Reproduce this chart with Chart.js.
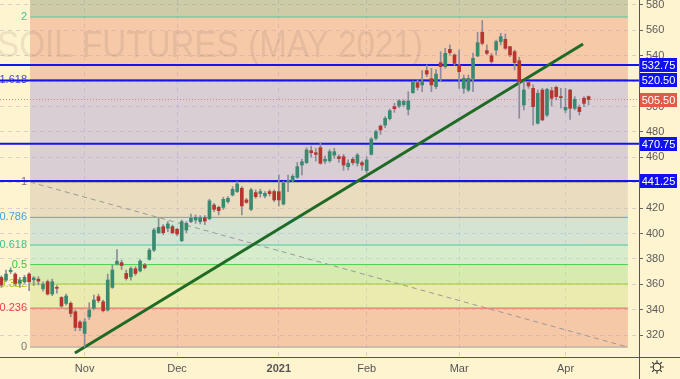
<!DOCTYPE html>
<html lang="en">
<head>
<meta charset="UTF-8">
<title>SOIL FUTURES (MAY 2021)</title>
<script src="https://cdn.jsdelivr.net/npm/chart.js@4.4.1/dist/chart.umd.min.js"></script>
<style>
  html, body { margin: 0; padding: 0; background: #fff4d0; }
  canvas { display: block; }
</style>
</head>
<body>
<canvas id="chart" width="680" height="379"></canvas>
<script>
// daily candles, Oct 7 2020 .. Apr 9 2021 (index = trading day)
var opens = [365.4,363.3,370.0,368.0,360.7,362.0,368.0,363.5,364.0,356.4,362.0,352.3,357.5,349.6,344.9,345.0,338.3,330.2,
  321.3,334.4,341.1,350.2,346.2,339.7,357.5,376.0,377.0,368.5,365.9,372.2,370.5,375.1,379.6,386.9,400.5,405.4,404.1,405.4,
  403.3,394.3,402.7,409.3,410.6,409.3,412.4,411.6,422.4,420.6,420.6,425.1,430.3,433.0,435.6,426.4,419.0,432.2,431.4,429.5,433.0,433.0,
  432.9,423.2,440.5,441.5,444.2,453.9,455.8,465.2,463.6,467.6,457.0,457.3,461.8,460.5,460.5,452.6,458.4,455.3,455.8,
  449.5,462.3,475.0,484.6,485.4,490.4,499.9,500.4,501.5,497.8,510.9,518.8,517.0,528.3,522.0,515.7,534.6,531.4,545.0,540.6,
  532.7,514.3,513.0,522.2,539.8,558.5,544.0,540.0,544.5,551.1,552.9,547.2,543.2,536.1,501.2,518.8,514.3,486.8,513.0,493.3,512.5,515.1,507.8,
  497.3,513.0,498.6,499.4,506.5,507.8];
var highs = [366.7,371.2,373.0,369.0,365.4,367.0,369.0,366.0,366.0,362.0,363.3,364.0,359.0,350.2,352.2,346.2,339.6,331.3,
  333.0,345.5,351.5,352.2,347.5,368.0,375.0,387.4,379.0,371.2,373.8,373.8,379.5,376.4,388.2,404.0,411.9,407.0,409.3,406.7,
  404.0,410.6,409.3,415.3,414.5,414.0,414.0,427.0,423.8,421.6,428.5,429.0,436.9,440.9,436.9,427.7,435.6,434.3,435.0,433.0,434.5,434.3,
  446.1,441.1,446.0,446.5,456.0,458.6,467.5,468.8,467.0,471.6,461.0,466.0,467.0,462.0,462.3,458.0,460.0,463.0,457.1,
  460.5,475.5,481.5,485.5,492.0,498.0,502.5,505.2,505.2,511.7,520.1,520.9,528.3,532.7,530.0,529.0,543.2,545.9,548.5,541.5,
  544.5,524.8,524.8,542.0,558.5,567.7,548.5,541.9,552.4,557.7,557.2,547.2,544.5,538.8,519.6,519.6,517.0,513.0,514.3,514.3,515.1,516.2,514.3,
  514.3,513.5,507.8,501.2,507.8,508.3];
var lows = [357.5,362.0,368.5,358.6,357.5,360.7,355.0,359.0,359.5,354.6,351.5,351.0,353.0,341.7,343.6,334.4,323.4,323.4,
  310.5,332.3,339.7,345.5,338.3,338.9,356.8,375.1,371.7,363.3,363.3,367.0,369.7,372.0,379.0,385.6,400.0,399.0,401.4,399.6,
  398.0,393.5,400.6,408.5,408.0,407.5,407.0,410.8,417.2,414.6,419.0,423.8,429.5,432.2,414.6,423.8,418.0,427.7,428.5,428.0,429.5,425.1,
  421.6,422.4,433.0,440.5,443.4,446.1,455.0,460.0,457.0,454.5,455.0,456.0,459.2,456.0,449.8,450.0,454.0,453.0,449.8,
  447.4,461.8,473.6,478.0,483.3,489.4,495.4,499.1,500.0,493.3,510.4,513.0,511.7,523.5,511.7,514.0,519.6,530.1,540.6,532.5,
  514.3,510.4,511.7,511.7,539.3,548.5,540.6,534.0,540.6,548.5,545.0,539.3,528.8,490.7,497.3,514.3,485.4,486.2,488.9,492.0,500.4,505.2,498.6,
  495.2,489.9,497.3,493.3,499.9,501.2];
var closes = [359.4,368.0,371.0,360.7,363.3,365.4,362.0,365.0,362.5,360.0,352.3,362.0,356.8,342.8,350.7,337.0,326.0,325.7,
  330.4,339.7,347.6,347.1,339.2,363.3,371.2,378.2,374.8,364.6,372.4,368.5,378.2,373.0,386.9,402.7,404.8,400.6,407.5,400.6,
  399.6,409.3,408.0,412.0,412.7,412.4,409.8,425.7,419.0,418.0,426.9,427.7,434.8,439.0,421.7,424.5,434.3,429.0,433.0,431.6,431.4,426.4,
  426.4,439.8,441.5,445.0,452.6,456.5,465.8,463.6,462.3,455.3,458.5,464.4,464.4,459.0,453.9,455.3,455.8,461.8,453.9,
  457.9,474.4,480.2,481.5,490.7,496.7,498.3,504.4,504.1,504.4,519.6,515.1,519.6,525.6,517.0,525.6,531.4,541.9,542.4,534.0,
  527.5,522.2,522.2,538.0,550.3,549.8,541.9,535.4,551.1,555.0,545.9,540.6,534.6,519.6,513.0,516.2,499.9,510.4,489.4,513.5,506.5,507.8,507.0,
  499.4,498.6,505.7,496.0,502.5,505.5];

var monthTickIdx = [18, 38, 60, 79, 99, 122];
var monthLabels = ['Nov', 'Dec', '2021', 'Feb', 'Mar', 'Apr'];
var yTicks = [320, 340, 360, 380, 400, 420, 440, 460, 480, 500, 520, 540, 560, 580];

var fibRatios = ['0', '0.236', '0.382', '0.5', '0.618', '0.786', '1', '1.618', '2'];
var fibPrices = [310.5, 341.2, 360.2, 375.5, 390.9, 412.7, 440.5, 520.8, 570.5];
var fibFrom = 6.2, fibTo = 135.5;

var levelPrices = [532.75, 520.50, 470.75, 441.25];
var lastPrice = 505.50;

var trendX = [15.9, 125.8], trendY = [305.8, 549.3];
var diagX = [6.2, 135.5], diagY = [440.5, 310.5];

var X_MIN = -0.3, X_MAX = 137.9, Y_MIN = 302.7, Y_MAX = 583.9;

var fibLineColors = ['#a0a0a0', '#e2675a', '#9bcc2c', '#4ccf4c', '#4fc7a0', '#5aa7d6', '#9a9a9a', '#4747d6', '#59c69a'];
var fibTextColors = ['#787878', '#e04848', '#a8c81c', '#3fc23f', '#3fbf8f', '#4a9fd4', '#777777', '#4848c8', '#3cc890'];
var bandColors = ['rgba(0,0,0,0)', 'rgba(235,156,128,0.5)', 'rgba(215,226,144,0.5)', 'rgba(175,224,144,0.5)',
  'rgba(173,228,196,0.5)', 'rgba(171,210,214,0.5)', 'rgba(213,196,174,0.5)', 'rgba(179,168,216,0.5)',
  'rgba(237,158,130,0.5)'];
var UP = '#3a8a70', DOWN = '#b8342e', WICK = '#8c8c9c';

var bodies = [], wicks = [], bodyColors = [];
for (var i = 0; i < opens.length; i++) {
  bodies.push({ x: i, y: [opens[i], closes[i]] });
  wicks.push({ x: i, y: [lows[i], highs[i]] });
  bodyColors.push(closes[i] >= opens[i] ? UP : DOWN);
}

function hline(y, color, width, dash) {
  return { type: 'line', data: [{ x: X_MIN, y: y }, { x: X_MAX, y: y }], borderColor: color,
    borderWidth: width, borderDash: dash || [], pointRadius: 0, fill: false };
}

var datasets = [
  { type: 'bar', data: bodies, backgroundColor: bodyColors, barThickness: 3, minBarLength: 1, grouped: false, borderWidth: 0 },
  { type: 'bar', data: wicks, backgroundColor: WICK, barThickness: 1, grouped: false, borderWidth: 0 },
  { type: 'line', data: [{ x: trendX[0], y: trendY[0] }, { x: trendX[1], y: trendY[1] }], borderColor: '#1f6b26',
    borderWidth: 3, pointRadius: 0, fill: false },
  { type: 'line', data: [{ x: diagX[0], y: diagY[0] }, { x: diagX[1], y: diagY[1] }], borderColor: '#9a9a9a',
    borderWidth: 1, borderDash: [5, 4], pointRadius: 0, fill: false }
];
levelPrices.forEach(function (p) { datasets.push(hline(p, '#1414ee', 2)); });
datasets.push(hline(lastPrice, '#e08080', 1, [1, 2]));

var FIB_FIRST = datasets.length;
fibPrices.forEach(function (p, k) {
  datasets.push({ type: 'line', data: [{ x: fibFrom, y: p }, { x: fibTo, y: p }], borderColor: fibLineColors[k],
    borderWidth: 1, pointRadius: 0, fill: k === 0 ? false : '-1', backgroundColor: bandColors[k] });
});
datasets.push({ type: 'line', data: [{ x: fibFrom, y: Y_MAX }, { x: fibTo, y: Y_MAX }], borderWidth: 0,
  pointRadius: 0, fill: '-1', backgroundColor: 'rgba(155,162,128,0.5)' });

var decor = {
  id: 'decor',
  beforeDraw: function (chart) {
    var ctx = chart.ctx;
    ctx.save();
    ctx.fillStyle = '#fff4d0';
    ctx.fillRect(0, 0, chart.width, chart.height);
    ctx.restore();
  },
  afterDatasetDraw: function (chart, args) {
    if (args.index !== FIB_FIRST) return;
    var ctx = chart.ctx, y = chart.scales.y;
    ctx.save();
    // watermark
    ctx.font = '36px "Liberation Sans"';
    ctx.fillStyle = 'rgba(90,70,70,0.11)';
    ctx.textBaseline = 'alphabetic';
    var txt = 'SOIL FUTURES (MAY 2021)';
    var w = ctx.measureText(txt).width;
    ctx.translate(-3, 57);
    ctx.scale(426 / w, 1);
    ctx.fillText(txt, 0, 0);
    ctx.restore();
    // fib labels
    ctx.save();
    ctx.font = '11px "Liberation Sans"';
    ctx.textAlign = 'right';
    ctx.textBaseline = 'middle';
    fibPrices.forEach(function (p, k) {
      ctx.fillStyle = fibTextColors[k];
      ctx.fillText(fibRatios[k], 27, y.getPixelForValue(p));
    });
    ctx.restore();
  },
  afterDraw: function (chart) {
    var ctx = chart.ctx, y = chart.scales.y, a = chart.chartArea;
    ctx.save();
    ctx.strokeStyle = '#555';
    ctx.lineWidth = 1;
    ctx.beginPath();
    ctx.moveTo(a.right, a.bottom + 0.5); ctx.lineTo(chart.width, a.bottom + 0.5);
    ctx.moveTo(Math.round(a.right) + 0.5, a.bottom); ctx.lineTo(Math.round(a.right) + 0.5, chart.height);
    ctx.stroke();
    function tag(p, bg) {
      var cy = Math.round(y.getPixelForValue(p));
      ctx.fillStyle = bg;
      ctx.fillRect(a.right + 1, cy - 7, 37, 14);
      ctx.fillStyle = '#ffffff';
      ctx.font = '11px "Liberation Sans"';
      ctx.textAlign = 'center';
      ctx.textBaseline = 'middle';
      ctx.fillText(p.toFixed(2), a.right + 19.5, cy + 0.5);
    }
    levelPrices.forEach(function (p) { tag(p, '#1010f5'); });
    tag(lastPrice, '#e25a48');
    // settings gear
    var gx = 657, gy = 367;
    ctx.strokeStyle = '#333';
    ctx.lineWidth = 1.2;
    ctx.beginPath();
    ctx.arc(gx, gy, 3.8, 0, Math.PI * 2);
    ctx.stroke();
    ctx.beginPath();
    for (var k = 0; k < 8; k++) {
      var t = k * Math.PI / 4;
      ctx.moveTo(gx + Math.cos(t) * 4.5, gy + Math.sin(t) * 4.5);
      ctx.lineTo(gx + Math.cos(t) * 6.8, gy + Math.sin(t) * 6.8);
    }
    ctx.stroke();
    ctx.restore();
  }
};

new Chart(document.getElementById('chart'), {
  type: 'bar',
  data: { datasets: datasets },
  plugins: [decor],
  options: {
    responsive: false,
    animation: false,
    layout: { padding: 0 },
    plugins: { legend: { display: false }, tooltip: { enabled: false } },
    scales: {
      x: {
        type: 'linear', min: X_MIN, max: X_MAX, offset: false,
        afterBuildTicks: function (s) { s.ticks = monthTickIdx.map(function (v) { return { value: v }; }); },
        afterFit: function (s) { s.height = 22; s.paddingLeft = 0; s.paddingRight = 0; },
        grid: { color: 'rgba(130,130,200,0.3)', drawTicks: false, offset: false },
        border: { display: true, color: '#555', dash: [4, 4] },
        ticks: {
          autoSkip: false, maxRotation: 0, padding: 5, color: '#555',
          font: function (c) {
            return { family: '"Liberation Sans"', size: 11, weight: c.tick && c.tick.value === 60 ? 'bold' : 'normal' };
          },
          callback: function (v) { return monthLabels[monthTickIdx.indexOf(v)]; }
        }
      },
      y: {
        type: 'linear', position: 'right', min: Y_MIN, max: Y_MAX,
        afterBuildTicks: function (s) { s.ticks = yTicks.map(function (v) { return { value: v }; }); },
        afterFit: function (s) { s.width = 41; s.paddingTop = 0; s.paddingBottom = 0; },
        grid: { color: 'rgba(130,130,200,0.3)', tickColor: '#666', tickLength: 4 },
        border: { display: true, color: '#555', dash: [4, 4] },
        ticks: { padding: 3, color: '#5a5a5a', font: { family: '"Liberation Sans"', size: 11 } }
      }
    }
  }
});
</script>
</body>
</html>
